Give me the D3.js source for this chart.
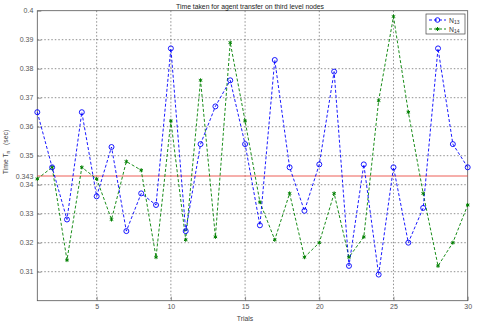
<!DOCTYPE html>
<html>
<head>
<meta charset="utf-8">
<script src="https://cdn.jsdelivr.net/npm/d3@7"></script>
<style>
  body { margin: 0; background: #fff; }
  text { font-family: "Liberation Sans", Arial, sans-serif; }
</style>
</head>
<body>
<div id="chart"></div>
<script>
// trial numbers and measured times (sec)
const trials = d3.range(1, 31);
const n13 = [0.365, 0.346, 0.328, 0.365, 0.336, 0.353, 0.324, 0.337, 0.333, 0.387,
             0.324, 0.354, 0.367, 0.376, 0.354, 0.326, 0.383, 0.346, 0.331, 0.347,
             0.379, 0.312, 0.347, 0.309, 0.346, 0.320, 0.332, 0.387, 0.354, 0.346];
const n14 = [0.342, 0.346, 0.314, 0.346, 0.342, 0.328, 0.348, 0.345, 0.315, 0.362,
             0.321, 0.376, 0.322, 0.389, 0.362, 0.334, 0.321, 0.337, 0.315, 0.320,
             0.337, 0.315, 0.322, 0.369, 0.398, 0.365, 0.337, 0.312, 0.320, 0.333];
const refLine = 0.343;
const xTicks = [5, 10, 15, 20, 25, 30];
const yTicks = [0.31, 0.32, 0.33, 0.34, 0.343, 0.35, 0.36, 0.37, 0.38, 0.39, 0.4];
const gridY = [0.31, 0.32, 0.33, 0.34, 0.35, 0.36, 0.37, 0.38, 0.39];

const W = 479, H = 329;
const margin = { top: 10.7, right: 11.3, bottom: 28.3, left: 37.3 };
const width = W - margin.left - margin.right;
const height = H - margin.top - margin.bottom;

const svg = d3.select('#chart').append('svg')
  .attr('width', W).attr('height', H);

const g = svg.append('g')
  .attr('transform', `translate(${margin.left},${margin.top})`);

const x = d3.scaleLinear().domain([1, 30]).range([0, width]);
const y = d3.scaleLinear().domain([0.3, 0.4]).range([height, 0]);

// grid
g.selectAll('.gx').data(xTicks.slice(0, -1)).join('line')
  .attr('x1', d => x(d)).attr('x2', d => x(d))
  .attr('y1', 0).attr('y2', height)
  .attr('stroke', '#444').attr('stroke-width', 0.6).attr('stroke-dasharray', '1.5,2');
g.selectAll('.gy').data(gridY).join('line')
  .attr('x1', 0).attr('x2', width)
  .attr('y1', d => y(d)).attr('y2', d => y(d))
  .attr('stroke', '#444').attr('stroke-width', 0.6).attr('stroke-dasharray', '1.5,2');

// axes
const axisColor = '#555';
const xAxis = g.append('g').attr('transform', `translate(0,${height})`)
  .call(d3.axisBottom(x).tickValues(xTicks).tickSize(-4).tickPadding(3).tickFormat(d3.format('d')));
const yAxis = g.append('g')
  .call(d3.axisLeft(y).tickValues(yTicks).tickSize(-4).tickPadding(4)
    .tickFormat(d => d === 0.4 ? '0.4' : d3.format('.3~f')(d)));
[xAxis, yAxis].forEach(a => {
  a.select('.domain').remove();
  a.selectAll('line').attr('stroke', axisColor).attr('stroke-width', 0.6);
  a.selectAll('text').attr('fill', '#555').attr('font-size', 7);
});
yAxis.selectAll('.tick').filter(d => d === refLine).select('line').remove();

// box
g.append('rect').attr('width', width).attr('height', height)
  .attr('fill', 'none').attr('stroke', '#555').attr('stroke-width', 0.8);

// reference line
g.append('line')
  .attr('x1', 0).attr('x2', width)
  .attr('y1', y(refLine)).attr('y2', y(refLine))
  .attr('stroke', '#e8362c').attr('stroke-width', 0.8);

const line = d3.line().x(d => x(d[0])).y(d => y(d[1]));
const s13 = trials.map((t, i) => [t, n13[i]]);
const s14 = trials.map((t, i) => [t, n14[i]]);

const blue = '#0000ff', green = '#008000';

g.append('path').datum(s14).attr('d', line)
  .attr('fill', 'none').attr('stroke', green).attr('stroke-width', 0.9)
  .attr('stroke-dasharray', '3,2');
g.append('path').datum(s13).attr('d', line)
  .attr('fill', 'none').attr('stroke', blue).attr('stroke-width', 0.9)
  .attr('stroke-dasharray', '3,2');

const star = d3.symbol().type(d3.symbolAsterisk).size(11);
g.selectAll('.m14').data(s14).join('path')
  .attr('d', star).attr('transform', d => `translate(${x(d[0])},${y(d[1])})`)
  .attr('fill', 'none').attr('stroke', green).attr('stroke-width', 1);
g.selectAll('.m13').data(s13).join('circle')
  .attr('cx', d => x(d[0])).attr('cy', d => y(d[1])).attr('r', 2.5)
  .attr('fill', 'none').attr('stroke', blue).attr('stroke-width', 0.9);

// titles
svg.append('text').attr('x', 250).attr('y', 9).attr('text-anchor', 'middle')
  .attr('font-size', 6.8).attr('fill', '#222')
  .text('Time taken for agent transfer on third level nodes');
svg.append('text').attr('x', 245).attr('y', 321).attr('text-anchor', 'middle')
  .attr('font-size', 6.8).attr('fill', '#444').text('Trials');
const yl = svg.append('text').attr('transform', 'translate(8,152) rotate(-90)')
  .attr('text-anchor', 'middle').attr('font-size', 6.8).attr('fill', '#444');
yl.append('tspan').text('Time T');
yl.append('tspan').attr('font-size', 5).attr('dy', 2).text('n');
yl.append('tspan').attr('dy', -2).attr('xml:space', 'preserve').text('   (sec)');

// legend
const lg = svg.append('g').attr('transform', 'translate(426,14)');
lg.append('rect').attr('width', 39).attr('height', 20)
  .attr('fill', '#fff').attr('stroke', '#444').attr('stroke-width', 0.7);
const entries = [{ name: '13', c: blue, m: 'o' }, { name: '14', c: green, m: '*' }];
entries.forEach((e, i) => {
  const yy = 6 + i * 9;
  lg.append('line').attr('x1', 3).attr('x2', 20).attr('y1', yy).attr('y2', yy)
    .attr('stroke', e.c).attr('stroke-width', 0.9).attr('stroke-dasharray', '3,2');
  if (e.m === 'o') {
    lg.append('circle').attr('cx', 11.5).attr('cy', yy).attr('r', 2.3)
      .attr('fill', 'none').attr('stroke', e.c).attr('stroke-width', 0.9);
  } else {
    lg.append('path').attr('d', star).attr('transform', `translate(11.5,${yy})`)
      .attr('fill', 'none').attr('stroke', e.c).attr('stroke-width', 1);
  }
  const t = lg.append('text').attr('x', 23).attr('y', yy + 2.5)
    .attr('font-size', 6.8).attr('fill', '#333');
  t.append('tspan').text('N');
  t.append('tspan').attr('font-size', 5).attr('dy', 1.5).text(e.name);
});
</script>
</body>
</html>
